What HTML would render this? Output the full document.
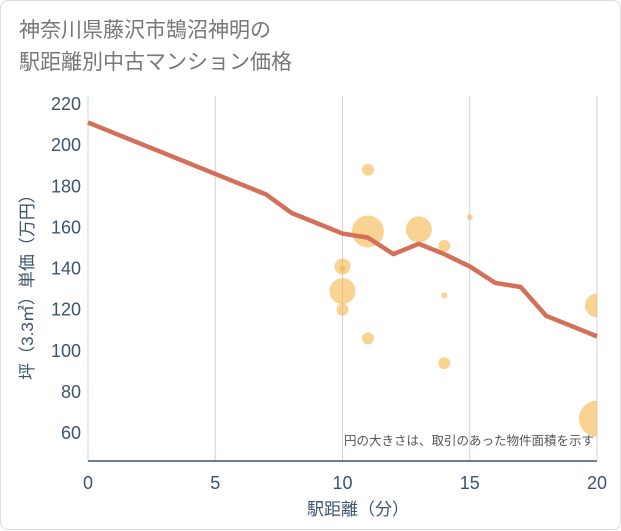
<!DOCTYPE html>
<html><head><meta charset="utf-8"><style>
body{margin:0;background:#fff;}
.card{position:absolute;left:0;top:0;width:619px;height:528px;border:1px solid #ddd;border-radius:8px;background:#fff;font-family:"Liberation Sans","Noto Sans CJK JP",sans-serif;}
.title{position:absolute;left:18px;top:14px;font-size:21px;line-height:32px;color:#777;}
svg{position:absolute;left:0;top:0;}
svg text{font-family:"Liberation Sans","Noto Sans CJK JP",sans-serif;}
</style></head><body>
<div class="card">
<div class="title">神奈川県藤沢市鵠沼神明の<br>駅距離別中古マンション価格</div>
<svg id="chart" width="621" height="530">
<defs><clipPath id="plotclip"><rect x="87" y="90" width="509" height="370"/></clipPath></defs>
</svg>
</div>
<script>
const xTicks=[0,5,10,15,20];
const yTicks=[60,80,100,120,140,160,180,200,220];
const lineX=[0,1,2,3,4,5,6,7,8,9,10,11,12,13,14,15,16,17,18,19,20];
const lineY=[211,206,201,196,191,186,181,176,167,162,157,155,147,152,147,141,133,131,117,112,107];
const bubX=[10,10,10,10,11,11,11,13,14,14,14,15,20,20];
const bubY=[141,140,129,120,188,158,106,159,151,127,94,165,122,67];
const bubR=[8,3,13,6,6,16,6,13,6,3,6,3,12,18];
const NS='http://www.w3.org/2000/svg';
const svg=document.getElementById('chart');
const L=87,R=596,T=103,B=460;
const sx=v=>L+(v-0)/20*(R-L);
const sy=v=>432-(v-60)/160*(432-103);
function mk(t,a,name,inter,parent){const e=document.createElementNS(NS,t);for(const k in a)e.setAttribute(k,a[k]);


(parent||svg).appendChild(e);return e;}
xTicks.forEach(v=>{mk('line',{x1:sx(v),x2:sx(v),y1:T-8,y2:B,stroke:'#c8d4e0','stroke-width':1},'x-grid-line','false');
const t=mk('text',{x:sx(v),y:B+28,'text-anchor':'middle','font-size':18,fill:'#3d5470'},'x-tick-label','false');t.textContent=v;});
yTicks.forEach(v=>{const t=mk('text',{x:80,y:sy(v)+6,'text-anchor':'end','font-size':18,fill:'#3d5470'},'y-tick-label','false');t.textContent=v;});
mk('line',{x1:L,x2:R,y1:B,y2:B,stroke:'#3d5470','stroke-width':1.5},'x-axis-line','false');
const g=mk('g',{'clip-path':'url(#plotclip)'},'bubble-group','false');
bubX.forEach((x,i)=>{mk('circle',{cx:sx(x),cy:sy(bubY[i]),r:bubR[i],fill:'#f3b54a','fill-opacity':0.6},'bubble','true',g);});
mk('polyline',{points:lineX.map((x,i)=>sx(x)+','+sy(lineY[i])).join(' '),fill:'none',stroke:'#d4705a','stroke-width':4.5,'stroke-linejoin':'round'},'price-line','true');
let t=mk('text',{x:593,y:444,'text-anchor':'end','font-size':12.5,fill:'#555'},'bubble-size-note','false');t.textContent='円の大きさは、取引のあった物件面積を示す';
t=mk('text',{x:357,y:514,'text-anchor':'middle','font-size':17,fill:'#3d5470'},'x-axis-title','false');t.textContent='駅距離（分）';
t=mk('text',{x:0,y:0,'text-anchor':'middle','font-size':17,fill:'#3d5470',transform:'translate(32,282) rotate(-90)'},'y-axis-title','false');t.textContent='坪（3.3㎡）単価（万円）';
</script>
</body></html>
